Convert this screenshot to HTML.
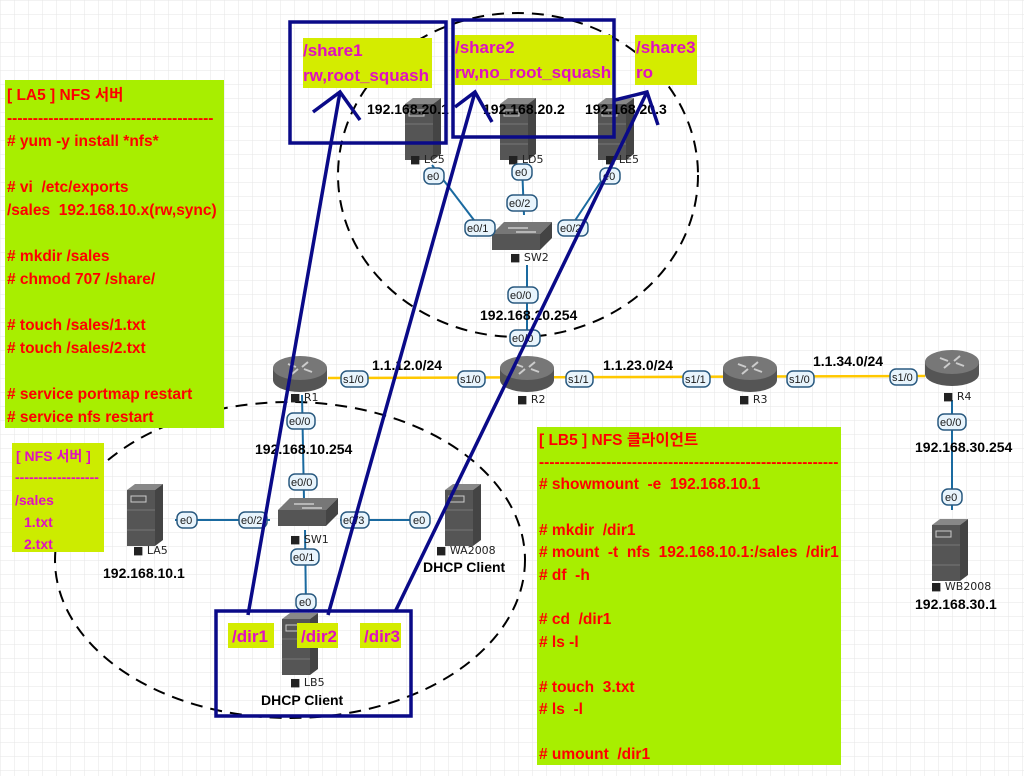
<!DOCTYPE html>
<html><head><meta charset="utf-8"><style>
html,body{margin:0;padding:0;background:#fff}
svg{display:block}
text{white-space:pre}
.t{font-family:"Liberation Sans","Noto Sans CJK KR",sans-serif;font-weight:bold}
.r{fill:#f00;font-size:15.5px}
.m{fill:#e010c0;font-size:17px}
.k{fill:#000;font-size:14px}
.s{fill:#222;font-size:11px;font-family:"DejaVu Sans",sans-serif}
.p{fill:#1a1a1a;font-size:11px;font-family:"Liberation Sans",sans-serif}
</style></head><body>
<svg width="1024" height="776" viewBox="0 0 1024 776" xmlns="http://www.w3.org/2000/svg" xml:space="preserve">
<defs>
<pattern id="g" width="14" height="14" patternUnits="userSpaceOnUse"><path d="M14 0H0V14" fill="none" stroke="#e6e6e6" stroke-width="1"/></pattern>
<g id="rt"><ellipse cx="0" cy="8" rx="27" ry="12" fill="#555"/><rect x="-27" y="-4" width="54" height="12" fill="#555"/><ellipse cx="0" cy="-4" rx="27" ry="12" fill="#777"/><path d="M-12-8l8 3M12 0l-8-3M-8 2l6-5M8-10l-6 5" stroke="#ccc" stroke-width="2"/></g>
<g id="sw"><path d="M-30 -4l12-12h48l-12 12z" fill="#777"/><rect x="-30" y="-4" width="48" height="16" fill="#555"/><path d="M18-4l12-12v16l-12 12z" fill="#444"/><path d="M-14-10h20M-6-6h20" stroke="#ccc" stroke-width="1.5"/></g>
<g id="sv"><path d="M-20-24l8-6h28l-8 6z" fill="#888"/><rect x="-20" y="-24" width="28" height="56" fill="#555"/><path d="M8-24l8-6v56l-8 6z" fill="#444"/><rect x="-16" y="-18" width="15" height="6" fill="none" stroke="#ccc"/><path d="M-20 -4h28M-20 16h28" stroke="#777"/></g>
</defs>
<rect width="1024" height="776" fill="url(#g)"/>
<ellipse cx="518" cy="175" rx="180" ry="162" fill="none" stroke="#000" stroke-width="2" stroke-dasharray="12 8"/>
<ellipse cx="290" cy="560" rx="235" ry="158" fill="none" stroke="#000" stroke-width="2" stroke-dasharray="12 8"/>
<g stroke="#ffc800" stroke-width="2.5"><line x1="328" y1="378" x2="925" y2="376"/></g>
<g stroke="#1a6aa0" stroke-width="2" fill="none">
<line x1="432" y1="165" x2="480" y2="228"/><line x1="522" y1="165" x2="524" y2="215"/><line x1="612" y1="165" x2="570" y2="228"/>
<line x1="527" y1="265" x2="527" y2="345"/>
<line x1="302" y1="395" x2="304" y2="500"/><line x1="175" y1="520" x2="270" y2="520"/><line x1="340" y1="520" x2="430" y2="520"/><line x1="305" y1="530" x2="306" y2="610"/>
<line x1="952" y1="400" x2="952" y2="510"/>
</g>
<use href="#rt" x="300" y="372"/><use href="#rt" x="527" y="372"/><use href="#rt" x="750" y="372"/><use href="#rt" x="952" y="366"/>
<use href="#sw" x="522" y="238"/><use href="#sw" x="308" y="514"/>
<use href="#sv" x="425" y="128"/><use href="#sv" x="520" y="128"/><use href="#sv" x="618" y="128"/>
<use href="#sv" x="147" y="514"/><use href="#sv" x="465" y="514"/><use href="#sv" x="302" y="643"/><use href="#sv" x="952" y="549"/>
<g class="s">
<text x="410" y="163">■ LC5</text><text x="508" y="163">■ LD5</text><text x="605" y="163">■ LE5</text>
<text x="510" y="261">■ SW2</text><text x="290" y="401">■ R1</text><text x="517" y="403">■ R2</text><text x="739" y="403">■ R3</text><text x="943" y="400">■ R4</text>
<text x="290" y="543">■ SW1</text><text x="133" y="554">■ LA5</text><text x="436" y="554">■ WA2008</text><text x="290" y="686">■ LB5</text><text x="931" y="590">■ WB2008</text>
</g>
<g fill="#e8f4fc" stroke="#2a5a80" stroke-width="1.5">
<rect x="424" y="168" width="20" height="16" rx="6"/><rect x="512" y="164" width="20" height="16" rx="6"/><rect x="600" y="168" width="20" height="16" rx="6"/>
<rect x="465" y="220" width="30" height="16" rx="6"/><rect x="507" y="195" width="30" height="16" rx="6"/><rect x="558" y="220" width="30" height="16" rx="6"/>
<rect x="508" y="287" width="30" height="16" rx="6"/><rect x="510" y="330" width="30" height="16" rx="6"/>
<rect x="341" y="371" width="27" height="16" rx="6"/><rect x="458" y="371" width="27" height="16" rx="6"/><rect x="566" y="371" width="27" height="16" rx="6"/><rect x="683" y="371" width="27" height="16" rx="6"/><rect x="787" y="371" width="27" height="16" rx="6"/><rect x="890" y="369" width="27" height="16" rx="6"/>
<rect x="287" y="413" width="28" height="16" rx="6"/><rect x="289" y="474" width="28" height="16" rx="6"/>
<rect x="177" y="512" width="20" height="16" rx="6"/><rect x="239" y="512" width="28" height="16" rx="6"/><rect x="341" y="512" width="28" height="16" rx="6"/><rect x="410" y="512" width="20" height="16" rx="6"/>
<rect x="291" y="549" width="28" height="16" rx="6"/><rect x="296" y="594" width="20" height="16" rx="6"/>
<rect x="938" y="414" width="28" height="16" rx="6"/><rect x="942" y="489" width="20" height="16" rx="6"/>
</g>
<g class="p">
<text x="427" y="180">e0</text><text x="515" y="176">e0</text><text x="603" y="180">e0</text>
<text x="467" y="232">e0/1</text><text x="509" y="207">e0/2</text><text x="560" y="232">e0/2</text>
<text x="510" y="299">e0/0</text><text x="512" y="342">e0/0</text>
<text x="343" y="383">s1/0</text><text x="460" y="383">s1/0</text><text x="568" y="383">s1/1</text><text x="685" y="383">s1/1</text><text x="789" y="383">s1/0</text><text x="892" y="381">s1/0</text>
<text x="289" y="425">e0/0</text><text x="291" y="486">e0/0</text>
<text x="180" y="524">e0</text><text x="241" y="524">e0/2</text><text x="343" y="524">e0/3</text><text x="413" y="524">e0</text>
<text x="293" y="561">e0/1</text><text x="299" y="606">e0</text>
<text x="940" y="426">e0/0</text><text x="945" y="501">e0</text>
</g>
<g class="t k">
<text x="367" y="114">192.168.20.1</text><text x="483" y="114">192.168.20.2</text><text x="585" y="114">192.168.20.3</text>
<text x="480" y="320">192.168.20.254</text>
<text x="372" y="370">1.1.12.0/24</text><text x="603" y="370">1.1.23.0/24</text><text x="813" y="366">1.1.34.0/24</text>
<text x="255" y="454">192.168.10.254</text><text x="103" y="578">192.168.10.1</text><text x="423" y="572">DHCP Client</text><text x="261" y="705">DHCP Client</text>
<text x="915" y="452">192.168.30.254</text><text x="915" y="609">192.168.30.1</text>
</g>
<rect x="5" y="80" width="219" height="348" fill="#a8ee00"/>
<g class="t r">
<text x="7" y="100">[ LA5 ] NFS 서버</text>
<text x="7" y="123">----------------------------------------</text>
<text x="7" y="146"># yum -y install *nfs*</text>
<text x="7" y="192"># vi  /etc/exports</text>
<text x="7" y="215">/sales  192.168.10.x(rw,sync)</text>
<text x="7" y="261"># mkdir /sales</text>
<text x="7" y="284"># chmod 707 /share/</text>
<text x="7" y="330"># touch /sales/1.txt</text>
<text x="7" y="353"># touch /sales/2.txt</text>
<text x="7" y="399"># service portmap restart</text>
<text x="7" y="422"># service nfs restart</text>
</g>
<rect x="12" y="443" width="92" height="109" fill="#ccec00"/>
<g class="t" fill="#e010c0" font-size="14">
<text x="16" y="461">[ NFS 서버 ]</text><text x="15" y="482">------------------</text><text x="15" y="505">/sales</text><text x="24" y="527">1.txt</text><text x="24" y="549">2.txt</text>
</g>
<rect x="537" y="427" width="304" height="338" fill="#a8ee00"/>
<g class="t r">
<text x="539" y="445">[ LB5 ] NFS 클라이언트</text>
<text x="539" y="467">----------------------------------------------------------</text>
<text x="539" y="489"># showmount  -e  192.168.10.1</text>
<text x="539" y="535"># mkdir  /dir1</text>
<text x="539" y="557"># mount  -t  nfs  192.168.10.1:/sales  /dir1</text>
<text x="539" y="580"># df  -h</text>
<text x="539" y="624"># cd  /dir1</text>
<text x="539" y="647"># ls -l</text>
<text x="539" y="692"># touch  3.txt</text>
<text x="539" y="714"># ls  -l</text>
<text x="539" y="759"># umount  /dir1</text>
</g>
<rect x="303" y="38" width="129" height="50" fill="#d4ec00"/><rect x="455" y="35" width="157" height="50" fill="#d4ec00"/><rect x="635" y="35" width="62" height="50" fill="#d4ec00"/>
<g class="t m">
<text x="303" y="56">/share1</text><text x="303" y="81">rw,root_squash</text>
<text x="455" y="53">/share2</text><text x="455" y="78">rw,no_root_squash</text>
<text x="636" y="53">/share3</text><text x="636" y="78">ro</text>
</g>
<rect x="228" y="623" width="46" height="25" fill="#d4ec00"/><rect x="297" y="623" width="41" height="25" fill="#d4ec00"/><rect x="360" y="623" width="41" height="25" fill="#d4ec00"/>
<g class="t m"><text x="232" y="642">/dir1</text><text x="301" y="642">/dir2</text><text x="364" y="642">/dir3</text></g>
<g stroke="#0a0a88" stroke-width="3.5" fill="none">
<rect x="290" y="22" width="156" height="121"/><rect x="453" y="20" width="161" height="117"/><rect x="216" y="611" width="195" height="105"/>
<line x1="248" y1="615" x2="340" y2="92"/><polyline points="313,112 340,92 360,120"/>
<line x1="328" y1="615" x2="475" y2="92"/><polyline points="455,107 475,92 492,122"/>
<line x1="395" y1="612" x2="647" y2="92"/><polyline points="615,100 647,92 658,125"/>
</g>
</svg>
</body></html>
